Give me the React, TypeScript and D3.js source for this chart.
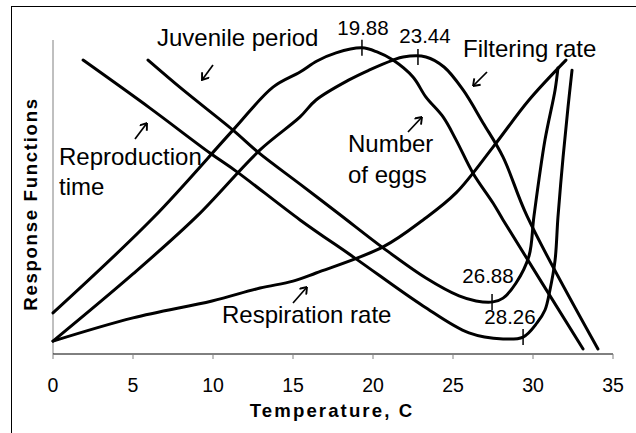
import React from 'react';
import * as d3 from 'd3';

// temperature (C) and relative response
const reproTemp = [1.88, 6.06, 9.81, 11.5, 15.44, 18.94, 23.13, 26.0, 28.13, 29.38, 30.25, 30.75, 31.06, 31.38, 31.56, 31.88, 32.19, 32.44];
const reproVal = [0.936, 0.783, 0.64, 0.58, 0.427, 0.303, 0.153, 0.067, 0.048, 0.054, 0.099, 0.14, 0.204, 0.299, 0.436, 0.627, 0.787, 0.904];

const juvTemp = [5.94, 8.13, 11.25, 12.81, 15.44, 17.88, 20.63, 23.31, 25.38, 26.44, 27.5, 28.13, 28.94, 29.75, 30.06, 30.75, 31.38, 31.56];
const juvVal = [0.936, 0.841, 0.713, 0.643, 0.541, 0.446, 0.338, 0.242, 0.185, 0.169, 0.166, 0.178, 0.226, 0.312, 0.439, 0.682, 0.841, 0.911];

const eggsTemp = [0, 6.25, 11.25, 13.75, 15.44, 16.5, 17.69, 19.31, 20.25, 21.25, 22.5, 23.31, 24.38, 25.19, 26.25, 27.5, 28.13, 33.13];
const eggsVal = [0.131, 0.433, 0.713, 0.85, 0.898, 0.933, 0.959, 0.975, 0.962, 0.936, 0.882, 0.818, 0.755, 0.682, 0.576, 0.481, 0.427, 0.016];

const filterTemp = [0, 5.0, 9.0, 12.94, 15.44, 16.44, 18.5, 19.75, 21.25, 21.88, 23.31, 24.44, 25.63, 26.88, 28.13, 29.63, 34.06];
const filterVal = [0.041, 0.255, 0.439, 0.65, 0.755, 0.809, 0.873, 0.904, 0.936, 0.946, 0.946, 0.914, 0.841, 0.736, 0.627, 0.439, 0.016];

const respTemp = [0, 5, 9.94, 12.94, 15.0, 16.44, 20.63, 23.13, 25.19, 27.5, 29.75, 32.06];
const respVal = [0.041, 0.115, 0.169, 0.21, 0.232, 0.258, 0.341, 0.427, 0.513, 0.659, 0.809, 0.936];

const xTicks = [0, 5, 10, 15, 20, 25, 30, 35];

// extremum marks: where the small tick sits and its printed value
const markTemp = [19.31, 22.81, 27.44, 29.38];
const markVal = [0.975, 0.946, 0.166, 0.054];
const markLabel = ['19.88', '23.44', '26.88', '28.26'];

const W = 636;
const H = 433;
const font = '"Liberation Sans", Arial, sans-serif';

export default function App() {
  const x = d3.scaleLinear().domain([0, 35]).range([53, 613]);
  const y = d3.scaleLinear().domain([0, 1]).range([354, 40]);

  const line = d3
    .line<[number, number]>()
    .x((d) => x(d[0]))
    .y((d) => y(d[1]))
    .curve(d3.curveCatmullRom.alpha(0.5));

  const series = [
    d3.zip(reproTemp, reproVal),
    d3.zip(juvTemp, juvVal),
    d3.zip(eggsTemp, eggsVal),
    d3.zip(filterTemp, filterVal),
    d3.zip(respTemp, respVal),
  ] as [number, number][][];

  // label positions (layout)
  const markText = [
    { x: 363, y: 35 },
    { x: 425, y: 43 },
    { x: 488, y: 283 },
    { x: 510, y: 324 },
  ];

  const arrows = [
    [213, 65, 202, 80],
    [135, 139, 147, 123],
    [408, 132, 422, 117],
    [487, 72, 473, 86],
    [293, 303, 307, 287],
  ];

  return (
    <div style={{ position: 'absolute', left: 0, top: 0 }}>
      <svg width={W} height={H} style={{ display: 'block', background: '#fff' }}>
        <defs>
          <marker id="ah" viewBox="0 0 10 10" refX="9.3" refY="5" markerWidth="10" markerHeight="10" markerUnits="userSpaceOnUse" orient="auto">
            <path d="M3,0.5 L9.3,5 L3,9.5" fill="none" stroke="#000" strokeWidth="1.9" strokeLinejoin="miter" />
          </marker>
        </defs>
        <rect x={11.5} y={6.5} width={640} height={440} fill="none" stroke="#000" strokeWidth={1} />

        {/* axes */}
        <line x1={53} x2={53} y1={40} y2={354} stroke="#808080" strokeWidth={1} />
        <line x1={53} x2={613} y1={354} y2={354} stroke="#000" strokeWidth={1} />
        {xTicks.map((t) => (
          <g key={t}>
            <line x1={x(t)} x2={x(t)} y1={354} y2={359} stroke="#808080" strokeWidth={1} />
            <text x={x(t)} y={392} textAnchor="middle" fontFamily={font} fontSize={19.5} fill="#000">
              {t}
            </text>
          </g>
        ))}
        <text x={332} y={417} textAnchor="middle" fontFamily={font} fontSize={18.6} fontWeight="bold" letterSpacing={2.1}>
          Temperature, C
        </text>
        <text
          transform="translate(37,204) rotate(-90)"
          textAnchor="middle"
          fontFamily={font}
          fontSize={18.6}
          fontWeight="bold"
          letterSpacing={1.7}
        >
          Response Functions
        </text>

        {/* curves */}
        {series.map((s, i) => (
          <path key={i} d={line(s) ?? ''} fill="none" stroke="#000" strokeWidth={3} strokeLinejoin="round" strokeLinecap="round" />
        ))}

        {/* extremum ticks */}
        {markTemp.map((t, i) => (
          <g key={i}>
            <line x1={x(t)} x2={x(t)} y1={y(markVal[i]) - 8} y2={y(markVal[i]) + 8} stroke="#000" strokeWidth={1.5} />
            <text x={markText[i].x} y={markText[i].y} textAnchor="middle" fontFamily={font} fontSize={20.5}>
              {markLabel[i]}
            </text>
          </g>
        ))}

        {/* arrows */}
        {arrows.map((a, i) => (
          <line key={i} x1={a[0]} y1={a[1]} x2={a[2]} y2={a[3]} stroke="#000" strokeWidth={1.7} markerEnd="url(#ah)" />
        ))}

        {/* curve labels */}
        <g fontFamily={font} fontSize={24} fill="#000">
          <text x={157} y={46}>Juvenile period</text>
          <text x={59} y={165}>Reproduction</text>
          <text x={59} y={195}>time</text>
          <text x={348} y={152}>Number</text>
          <text x={348} y={183}>of eggs</text>
          <text x={463} y={57}>Filtering rate</text>
          <text x={222} y={323}>Respiration rate</text>
        </g>
      </svg>
    </div>
  );
}
